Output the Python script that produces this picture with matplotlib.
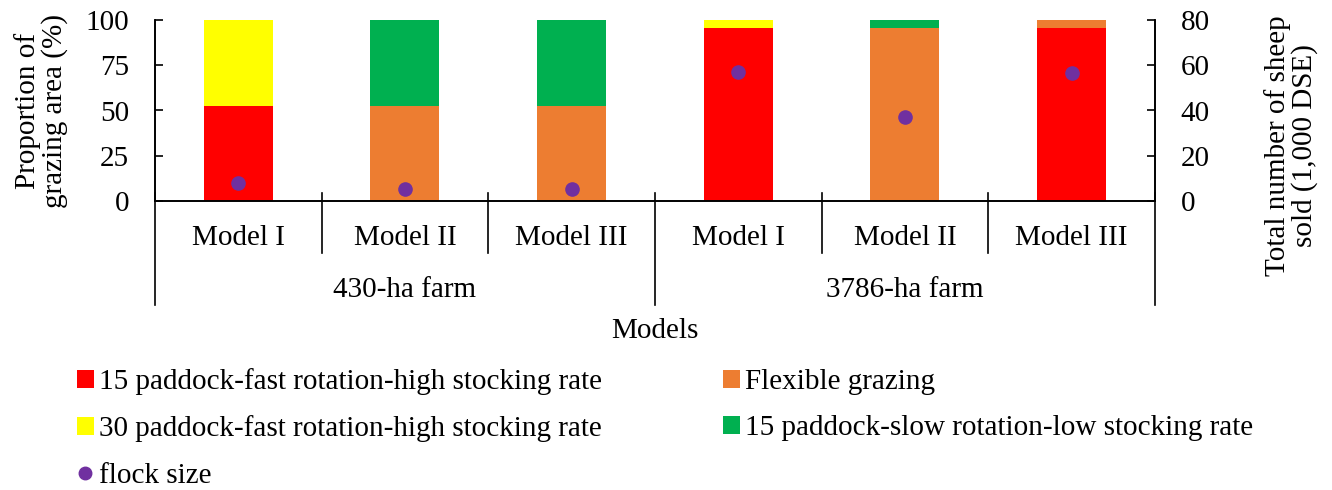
import numpy as np
import matplotlib

matplotlib.use("Agg")

import matplotlib.pyplot as plt
from matplotlib.patches import Patch
from matplotlib.lines import Line2D

# ==================================================
# DATA
# ==================================================

models = ["Model I", "Model II", "Model III", "Model I", "Model II", "Model III"]
farms = ["430-ha farm", "3786-ha farm"]

red = [52.5, 0, 0, 95.5, 0, 95.5]
orange = [0, 52.5, 52.5, 0, 95.5, 4.5]
yellow = [47.5, 0, 0, 4.5, 0, 0]
green = [0, 47.5, 47.5, 0, 4.5, 0]

flock = [8.1, 5.4, 5.4, 57.2, 37.0, 56.4]

series_names = [
    "15 paddock-fast rotation-high stocking rate",
    "Flexible grazing",
    "30 paddock-fast rotation-high stocking rate",
    "15 paddock-slow rotation-low stocking rate",
]
colors = ["#FF0000", "#ED7D31", "#FFFF00", "#00B050"]
flock_color = "#7030A0"

# ==================================================
# FIGURE
# ==================================================

plt.rcParams["font.family"] = ["Liberation Serif", "DejaVu Serif"]
FS = 21

W, H = 1332, 490
fig = plt.figure(figsize=(W / 100, H / 100), dpi=100)

ax = fig.add_axes([155 / W, 1 - 201 / H, 1000 / W, 181 / H])
ax2 = ax.twinx()

x = np.arange(len(models))
bottom = np.zeros(len(models))
for vals, c in zip([red, orange, yellow, green], colors):
    ax.bar(x, vals, bottom=bottom, width=0.414, color=c, linewidth=0)
    bottom += np.array(vals)

ax2.plot(x, flock, linestyle="none", marker="o", markersize=9.5,
         color=flock_color)

ax.set_xlim(-0.5, 5.5)
ax.set_ylim(0, 100)
ax2.set_ylim(0, 80)
ax.set_yticks([0, 25, 50, 75, 100])
ax2.set_yticks([0, 20, 40, 60, 80])

for a in (ax, ax2):
    a.spines["top"].set_visible(False)
    for s in a.spines.values():
        s.set_linewidth(1.2)
    a.tick_params(axis="y", labelsize=FS, direction="in", length=5.8,
                  width=1.2, pad=18.5)

ax.set_xticks([])

trans = ax.get_xaxis_transform()
line_kw = dict(color="black", linewidth=1.2, clip_on=False, transform=trans)

# category separators
for xs in [0.5, 1.5, 3.5, 4.5]:
    ax.plot([xs, xs], [0.044, -0.287], **line_kw)

# group separators
for xs in [-0.5, 2.5, 5.5]:
    ax.plot([xs, xs], [0.044, -0.575], **line_kw)

for i, m in enumerate(models):
    ax.text(i, -0.243, m, transform=trans, ha="center", va="baseline",
            fontsize=FS)

for g, f in enumerate(farms):
    ax.text(g * 3 + 1, -0.528, f, transform=trans, ha="center",
            va="baseline", fontsize=FS)

ax.text(2.5, -0.757, "Models", transform=trans, ha="center",
        va="baseline", fontsize=FS)

fig.text(41 / W, 1 - 110.5 / H, "Proportion of\ngrazing area (%)",
         rotation=90, ha="center", va="center", fontsize=FS,
         linespacing=1.0)
fig.text(1291 / W, 1 - 146 / H, "Total number of sheep\nsold (1,000 DSE)",
         rotation=90, ha="center", va="center", fontsize=FS,
         linespacing=1.0)

# ==================================================
# LEGEND
# ==================================================

patches = [Patch(facecolor=c, edgecolor="none", label=n)
           for c, n in zip(colors, series_names)]
dot = Line2D([], [], linestyle="none", marker="o", markersize=9,
             color=flock_color, label="flock size")

handles = [patches[0], patches[2], dot, patches[1], patches[3]]

fig.legend(
    handles=handles,
    ncol=2,
    loc="upper left",
    bbox_to_anchor=(77 / W, 1 - 368 / H),
    frameon=False,
    fontsize=FS,
    handlelength=0.58,
    handleheight=0.58,
    handletextpad=0.17,
    labelspacing=0.7,
    columnspacing=4.17,
    borderpad=0,
    borderaxespad=0,
)

plt.savefig("out.png", dpi=100)
plt.close()
